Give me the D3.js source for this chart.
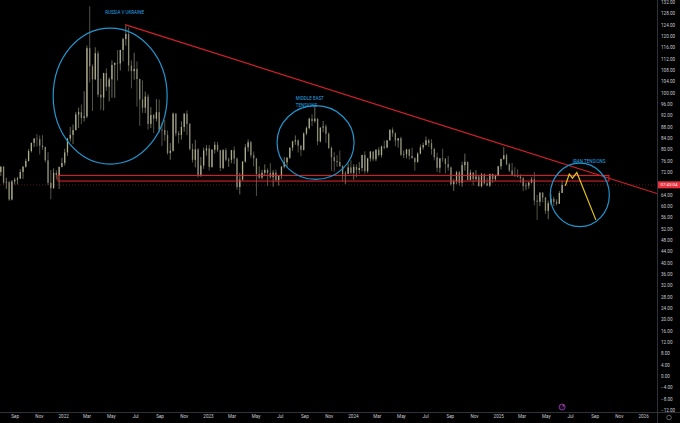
<!DOCTYPE html>
<html lang="en">
<head>
  <meta charset="UTF-8">
  <title>USOIL weekly</title>
  <style>
    html, body { margin: 0; padding: 0; background: #000; overflow: hidden; }
    .axis path, .axis line { display: none; }
    .axis text { font-family: Roboto, sans-serif; font-size: 4.6px; fill: #c8cbd2; }
    .note { font-family: Roboto, sans-serif; font-size: 4.5px; fill: #2aa6e4; }
  </style>
</head>
<body>
  <svg id="chart"></svg>
  <script src="https://d3js.org/d3.v7.min.js"></script>
  <script>
    // weekly candles, first week starting Monday 2021-07-26
    var firstWeek = '2021-07-26'
    var open = [
      72.0, 73.9, 68.3, 68.4, 62.3, 68.7, 69.3, 69.7, 72.0, 73.9, 75.9, 79.4, 82.3, 83.8, 83.6, 81.3, 80.8, 76.1, 68.2, 66.3, 71.7, 70.9, 73.8,
      75.2, 78.9, 83.8, 85.1, 86.8, 92.3, 93.1, 91.1, 91.6, 115.7, 109.3, 104.7, 113.9, 99.3, 98.3, 106.9, 102.1, 104.7, 109.8, 110.5, 110.3, 115.1, 118.9, 120.7, 109.6, 107.6, 108.4, 104.8, 97.6, 94.7, 98.6, 89.0, 92.1, 90.8, 93.1, 86.9, 86.8, 85.1, 78.7, 79.5, 92.6, 85.6, 85.1, 87.9, 92.6, 89.0, 80.1, 76.3, 80.0, 71.0, 74.3, 79.6,
      80.3, 73.8, 79.9, 81.6, 79.7, 73.4, 79.7, 76.3, 76.3, 79.7, 76.7, 66.7, 69.3, 75.7, 80.7, 82.5, 77.9, 76.8, 71.3, 70.0, 71.7, 72.7, 71.7, 70.2, 71.8, 69.2, 70.6, 73.9, 75.4, 77.1, 80.6, 82.8, 83.2, 81.3, 79.8, 85.6, 87.5, 90.8, 90.0, 90.8, 82.8, 87.7, 88.1, 85.5, 80.5, 77.2, 75.9, 75.5, 74.1, 71.2, 71.4, 73.6,
      71.7, 73.8, 72.7, 73.4, 78.0, 72.3, 76.8, 79.2, 76.5, 79.9, 78.0, 81.0, 80.6, 83.2, 86.9, 85.7, 83.1, 83.9, 78.1, 78.3, 80.0, 77.7, 76.9, 75.5, 78.5, 80.7, 81.5, 83.2, 82.2, 80.1, 77.2, 73.5, 76.8, 76.7, 74.8, 73.6, 67.7, 68.7, 71.9, 68.2, 74.4, 75.6, 69.2, 71.8, 69.5, 70.4, 67.0, 71.2, 68.0, 67.2, 71.3, 69.5, 70.6,
      74.0, 76.6, 77.9, 74.7, 72.5, 71.0, 70.7, 70.4, 69.8, 67.0, 67.2, 68.3, 69.4, 61.9, 61.5, 64.7, 63.0, 58.3, 61.0, 62.5, 61.5, 60.8, 64.6
    ]
    var high = [
      74.0, 74.0, 70.0, 68.9, 69.2, 70.0, 70.3, 73.0, 74.0, 76.7, 80.1, 82.3, 84.0, 85.4, 84.9, 85.0, 81.0, 79.0, 72.7, 73.3, 72.6, 73.9, 77.0,
      80.2, 84.0, 87.9, 88.8, 93.2, 94.7, 95.8, 100.5, 116.6, 130.5, 110.0, 116.0, 114.8, 104.9, 107.0, 108.6, 105.4, 111.4, 110.7, 115.0, 115.1, 119.4, 123.7, 123.0, 111.4, 114.1, 111.0, 105.0, 104.3, 100.4, 99.6, 94.9, 92.5, 97.7, 97.6, 89.6, 90.4, 86.7, 82.2, 93.0, 92.8, 86.5, 89.9, 92.8, 93.7, 89.2, 82.0, 83.3, 80.4, 77.3, 80.6, 81.5,
      81.5, 80.0, 82.7, 82.6, 79.8, 80.1, 80.5, 77.0, 79.8, 81.0, 77.2, 71.7, 75.8, 81.8, 83.5, 83.0, 79.2, 76.9, 74.0, 72.8, 74.7, 73.3, 75.1, 72.7, 72.9, 71.0, 74.0, 77.3, 77.1, 80.6, 83.0, 84.9, 83.5, 81.6, 86.0, 88.1, 91.2, 92.4, 95.0, 90.9, 87.7, 90.0, 88.8, 86.0, 81.0, 79.0, 78.0, 79.6, 74.4, 72.2, 75.0, 76.2,
      74.8, 74.7, 75.5, 78.1, 79.3, 77.0, 79.4, 79.4, 80.0, 80.8, 81.3, 83.1, 83.2, 87.0, 87.7, 86.0, 84.0, 84.5, 79.6, 80.1, 80.2, 80.6, 77.2, 78.9, 81.7, 82.4, 84.5, 83.7, 83.6, 80.5, 78.8, 77.0, 80.2, 76.9, 77.7, 74.0, 69.5, 72.4, 72.4, 75.6, 78.5, 75.6, 72.8, 71.9, 72.7, 70.7, 71.7, 71.5, 70.1, 71.4, 71.5, 71.1, 74.2,
      76.8, 80.8, 78.5, 75.2, 75.2, 73.7, 72.9, 71.2, 70.2, 68.3, 68.6, 70.2, 72.0, 63.9, 64.9, 64.9, 63.2, 61.9, 64.2, 63.3, 62.4, 65.3, 68.9
    ]
    var low = [
      70.6, 67.6, 66.0, 61.8, 62.0, 67.6, 67.6, 69.5, 69.6, 73.5, 75.7, 78.9, 80.8, 81.0, 78.2, 79.8, 75.4, 67.4, 62.4, 66.1, 69.4, 66.0, 73.6,
      74.3, 77.7, 82.7, 81.9, 86.6, 87.5, 88.9, 89.8, 91.0, 103.6, 93.5, 104.5, 98.4, 93.9, 93.7, 100.6, 96.9, 98.2, 98.2, 104.3, 107.8, 111.0, 116.6, 107.5, 101.5, 104.6, 95.1, 88.3, 92.9, 92.8, 87.0, 87.5, 85.7, 89.8, 85.9, 81.2, 83.0, 78.1, 76.3, 79.2, 84.6, 82.1, 83.4, 86.2, 85.0, 79.6, 75.3, 73.6, 70.1, 70.3, 73.1, 77.8,
      72.5, 73.5, 78.5, 79.0, 72.3, 73.0, 75.7, 73.8, 75.1, 74.8, 65.7, 64.1, 69.0, 75.3, 79.2, 77.0, 74.0, 63.6, 69.5, 69.4, 70.6, 67.0, 69.6, 66.8, 68.6, 67.2, 69.5, 73.3, 73.8, 76.6, 79.4, 81.6, 78.9, 77.6, 79.6, 85.0, 87.0, 88.2, 89.4, 81.5, 82.5, 86.0, 82.3, 80.1, 72.4, 72.2, 73.8, 73.8, 68.6, 67.7, 71.3, 71.3,
      69.3, 70.1, 71.4, 72.2, 71.4, 71.7, 75.7, 75.8, 75.8, 77.5, 77.1, 80.0, 80.4, 83.0, 84.4, 81.1, 80.6, 77.6, 76.9, 76.8, 76.4, 76.7, 72.5, 75.3, 78.2, 79.9, 81.4, 80.8, 78.1, 76.1, 72.0, 71.7, 75.6, 71.5, 72.4, 67.2, 65.3, 67.7, 67.2, 66.8, 72.5, 69.0, 69.0, 67.2, 68.9, 66.9, 66.6, 67.6, 67.0, 66.7, 68.1, 68.8, 70.5,
      72.9, 76.3, 74.4, 72.0, 70.9, 70.2, 70.1, 68.2, 65.2, 65.6, 66.1, 68.0, 60.2, 55.1, 60.0, 61.3, 57.2, 55.3, 60.3, 60.0, 60.2, 60.7, 64.6
    ]
    var close = [
      73.9, 68.3, 68.4, 62.3, 68.7, 69.3, 69.7, 72.0, 73.9, 75.9, 79.4, 82.3, 83.8, 83.6, 81.3, 80.8, 76.1, 68.2, 66.3, 71.7, 70.9, 73.8, 75.2,
      78.9, 83.8, 85.1, 86.8, 92.3, 93.1, 91.1, 91.6, 115.7, 109.3, 104.7, 113.9, 99.3, 98.3, 106.9, 102.1, 104.7, 109.8, 110.5, 110.3, 115.1, 118.9, 120.7, 109.6, 107.6, 108.4, 104.8, 97.6, 94.7, 98.6, 89.0, 92.1, 90.8, 93.1, 86.9, 86.8, 85.1, 78.7, 79.5, 92.6, 85.6, 85.1, 87.9, 92.6, 89.0, 80.1, 76.3, 80.0, 71.0, 74.3, 79.6, 80.3,
      73.8, 79.9, 81.6, 79.7, 73.4, 79.7, 76.3, 76.3, 79.7, 76.7, 66.7, 69.3, 75.7, 80.7, 82.5, 77.9, 76.8, 71.3, 70.0, 71.7, 72.7, 71.7, 70.2, 71.8, 69.2, 70.6, 73.9, 75.4, 77.1, 80.6, 82.8, 83.2, 81.3, 79.8, 85.6, 87.5, 90.8, 90.0, 90.8, 82.8, 87.7, 88.1, 85.5, 80.5, 77.2, 75.9, 75.5, 74.1, 71.2, 71.4, 73.6, 71.7,
      73.8, 72.7, 73.4, 78.0, 72.3, 76.8, 79.2, 76.5, 79.9, 78.0, 81.0, 80.6, 83.2, 86.9, 85.7, 83.1, 83.9, 78.1, 78.3, 80.0, 77.7, 76.9, 75.5, 78.5, 80.7, 81.5, 83.2, 82.2, 80.1, 77.2, 73.5, 76.8, 76.7, 74.8, 73.6, 67.7, 68.7, 71.9, 68.2, 74.4, 75.6, 69.2, 71.8, 69.5, 70.4, 67.0, 71.2, 68.0, 67.2, 71.3, 69.5, 70.6, 74.0,
      76.6, 77.9, 74.7, 72.5, 71.0, 70.7, 70.4, 69.8, 67.0, 67.2, 68.3, 69.4, 61.9, 61.5, 64.7, 63.0, 58.3, 61.0, 62.5, 61.5, 60.8, 64.6, 67.4
    ]
    var lastPrice = 67.43
    var priceTag = '07:43:04'

    // drawings, in date / price terms
    var trendLine = [['2022-06-06', 124.0], ['2026-02-05', 64.4]]
    var zoneDates = ['2021-12-19', '2025-10-07']
    var zonePrices = [70.8, 68.8]
    var projection = [['2025-06-19', 67.1], ['2025-06-29', 71.3], ['2025-07-07', 69.8], ['2025-07-18', 71.8], ['2025-09-04', 55.1]]
    var circleDates = [['2021-12-07', '2022-09-20'], ['2023-06-24', '2024-01-04'], ['2025-05-12', '2025-10-08']]
    var circlePrices = [[122.8, 74.8], [95.4, 69.4], [75.1, 52.7]]
    var noteText = [['RUSSIA V UKRAINE'], ['MIDDLE EAST', 'TENSIONS'], ['IRAN TENSIONS']]
    var noteAt = [['2022-06-05', 127.8], ['2023-08-10', 97.4], ['2025-08-18', 75.3]]
    var noteAnchor = ['middle', 'start', 'middle']
    var yTicks = d3.range(-12, 133, 4)

    var width = 680
    var height = 423
    var padding = {right: 23, bottom: 11}
    var plotW = width - padding.right
    var plotH = height - padding.bottom
    var parse = d3.timeParse('%Y-%m-%d')
    var upColor = '#aeae8e'
    var downColor = '#8b8a74'

    var svg = d3.select('#chart')
      .attr('width', width)
      .attr('height', height)
      .style('display', 'block')
      .style('background', '#000')

    var xScale = d3.scaleTime()
      .domain([parse('2021-07-26'), parse('2026-02-05')])
      .range([0, plotW])
    var yScale = d3.scaleLinear()
      .domain([-12, 132])
      .range([410, 2])

    svg.append('clipPath').attr('id', 'plot')
      .append('rect').attr('width', plotW).attr('height', plotH)
    var plot = svg.append('g').attr('clip-path', 'url(#plot)')

    // current price dotted line
    plot.append('line')
      .attr('x1', 0).attr('x2', plotW)
      .attr('y1', yScale(lastPrice)).attr('y2', yScale(lastPrice))
      .attr('stroke', '#6e1c22').attr('stroke-width', 0.8)
      .attr('stroke-dasharray', '1,2')

    var start = parse(firstWeek)
    var candles = close.map(function (c, i) {
      return {date: d3.timeDay.offset(d3.timeMonday.offset(start, i), 2), open: open[i], high: high[i], low: low[i], close: c}
    })

    var bar = plot.selectAll('.candle')
      .data(candles)
      .enter()
      .append('g')
      .attr('class', 'candle')
    bar.append('line')
      .attr('x1', function (d) { return xScale(d.date) })
      .attr('x2', function (d) { return xScale(d.date) })
      .attr('y1', function (d) { return yScale(d.high) })
      .attr('y2', function (d) { return yScale(d.low) })
      .attr('stroke', function (d) { return d.close >= d.open ? upColor : downColor })
      .attr('stroke-width', 0.6)
    bar.append('rect')
      .attr('x', function (d) { return xScale(d.date) - 0.65 })
      .attr('width', 1.3)
      .attr('y', function (d) { return yScale(Math.max(d.open, d.close)) })
      .attr('height', function (d) { return Math.max(0.6, Math.abs(yScale(d.open) - yScale(d.close))) })
      .attr('fill', function (d) { return d.close >= d.open ? upColor : downColor })

    // support zone
    plot.append('rect')
      .attr('x', xScale(parse(zoneDates[0])))
      .attr('y', yScale(zonePrices[0]))
      .attr('width', xScale(parse(zoneDates[1])) - xScale(parse(zoneDates[0])))
      .attr('height', yScale(zonePrices[1]) - yScale(zonePrices[0]))
      .attr('fill', 'rgba(242,54,69,0.05)')
      .attr('stroke', '#e0262f')
      .attr('stroke-width', 1)

    // falling trend line
    plot.append('line')
      .attr('x1', xScale(parse(trendLine[0][0]))).attr('y1', yScale(trendLine[0][1]))
      .attr('x2', xScale(parse(trendLine[1][0]))).attr('y2', yScale(trendLine[1][1]))
      .attr('stroke', '#d1202b')
      .attr('stroke-width', 1.2)

    // circled events
    circleDates.forEach(function (dd, i) {
      var x0 = xScale(parse(dd[0])), x1 = xScale(parse(dd[1]))
      var y0 = yScale(circlePrices[i][0]), y1 = yScale(circlePrices[i][1])
      plot.append('ellipse')
        .attr('cx', (x0 + x1) / 2).attr('cy', (y0 + y1) / 2)
        .attr('rx', (x1 - x0) / 2).attr('ry', (y1 - y0) / 2)
        .attr('fill', 'none')
        .attr('stroke', '#2096cf')
        .attr('stroke-width', 1.2)
      var t = plot.append('text')
        .attr('class', 'note')
        .attr('text-anchor', noteAnchor[i])
        .attr('x', xScale(parse(noteAt[i][0])))
        .attr('y', yScale(noteAt[i][1]))
      noteText[i].forEach(function (s, k) {
        t.append('tspan')
          .attr('x', xScale(parse(noteAt[i][0])))
          .attr('dy', k === 0 ? 0 : 6.6)
          .text(s)
      })
    })

    // projected path
    var line = d3.line()
      .x(function (d) { return xScale(parse(d[0])) })
      .y(function (d) { return yScale(d[1]) })
    plot.append('path')
      .attr('d', line(projection))
      .attr('fill', 'none')
      .attr('stroke', '#e5c21d')
      .attr('stroke-width', 1.2)

    // axes
    var xAxis = d3.axisBottom(xScale)
      .tickValues(d3.timeMonth.range(parse('2021-09-01'), parse('2026-01-02'), 2))
      .tickSize(0)
      .tickPadding(3)
      .tickFormat(function (d) { return d.getMonth() === 0 ? d3.timeFormat('%Y')(d) : d3.timeFormat('%b')(d) })
    svg.append('g')
      .attr('class', 'axis')
      .attr('transform', 'translate(0,' + plotH + ')')
      .call(xAxis)

    // the last price tag covers the tick closest to it
    var yAxis = d3.axisRight(yScale)
      .tickValues(yTicks.filter(function (v) { return Math.abs(yScale(v) - yScale(lastPrice)) > 5 }))
      .tickSize(0)
      .tickPadding(4)
      .tickFormat(d3.format('.2f'))
    svg.append('g')
      .attr('class', 'axis')
      .attr('transform', 'translate(' + plotW + ',0)')
      .call(yAxis)

    svg.append('line')
      .attr('x1', 0).attr('x2', width)
      .attr('y1', plotH + 0.5).attr('y2', plotH + 0.5)
      .attr('stroke', '#3a3d45').attr('stroke-width', 0.8)
    svg.append('line')
      .attr('x1', plotW + 0.5).attr('x2', plotW + 0.5)
      .attr('y1', 0).attr('y2', height)
      .attr('stroke', '#3a3d45').attr('stroke-width', 0.8)

    // last price tag
    svg.append('rect')
      .attr('x', plotW + 1).attr('y', yScale(lastPrice) - 3.6)
      .attr('width', width - plotW - 1).attr('height', 7)
      .attr('fill', '#e8313d')
    svg.append('text')
      .attr('x', plotW + 12).attr('y', yScale(lastPrice))
      .attr('dy', '0.35em')
      .attr('text-anchor', 'middle')
      .style('font-family', 'Roboto, sans-serif')
      .style('font-size', '4.4px')
      .attr('fill', '#fff')
      .text(priceTag)

    // small chart icons
    svg.append('circle')
      .attr('cx', xScale(parse('2025-06-11'))).attr('cy', plotH - 5)
      .attr('r', 3)
      .attr('fill', '#1a0d22').attr('stroke', '#9c3fc8').attr('stroke-width', 0.8)
    svg.append('circle')
      .attr('cx', xScale(parse('2025-06-11')) + 1.2).attr('cy', plotH - 6.2)
      .attr('r', 0.8).attr('fill', '#d24a6a')
    svg.append('circle')
      .attr('cx', plotW + 12).attr('cy', plotH + 5.5)
      .attr('r', 2.3)
      .attr('fill', 'none').attr('stroke', '#9a9da6').attr('stroke-width', 0.6)
  </script>
</body>
</html>
